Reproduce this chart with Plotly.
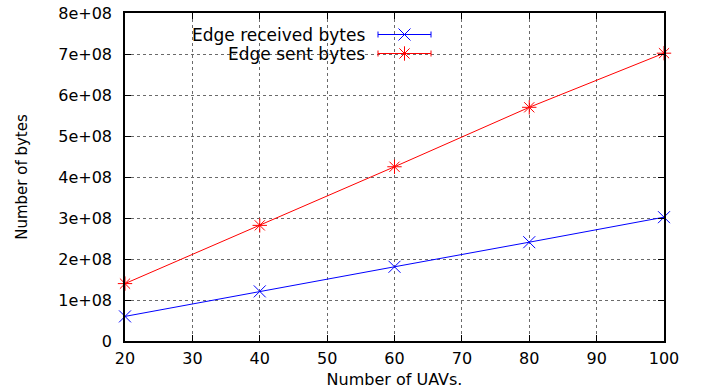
import plotly.graph_objects as go

uavs = [20, 40, 60, 80, 100]
received_bytes = [0.60e8, 1.21e8, 1.81e8, 2.41e8, 3.02e8]
sent_bytes = [1.40e8, 2.82e8, 4.25e8, 5.70e8, 7.02e8]
y_tick_vals = [0, 1e8, 2e8, 3e8, 4e8, 5e8, 6e8, 7e8, 8e8]
y_tick_text = ["0", "1e+08", "2e+08", "3e+08", "4e+08", "5e+08", "6e+08", "7e+08", "8e+08"]
x_tick_vals = [20, 30, 40, 50, 60, 70, 80, 90, 100]
series_names = ["Edge received bytes", "Edge sent bytes"]
series_colors = ["#0000ff", "#ff0000"]
series_symbols = ["x-thin-open", "asterisk-open"]

FONT = "DejaVu Sans"
FS = 16
L, R, T, B = 125, 45, 13, 50
W, H = 709, 391

fig = go.Figure()
for name, ys, col, sym in zip(series_names, [received_bytes, sent_bytes], series_colors, series_symbols):
    fig.add_trace(go.Scatter(
        x=uavs, y=ys, mode="lines+markers", name=name,
        line=dict(color=col, width=1),
        marker=dict(symbol=sym, size=12, color=col, line=dict(color=col, width=1)),
        showlegend=False, cliponaxis=False,
    ))

# legend (gnuplot style: right-aligned text, sample with caps)
legend_rows = [34.5, 53.5]
for name, col, sym, yrow in zip(series_names, series_colors, series_symbols, legend_rows):
    fig.add_trace(go.Scatter(
        x=[404.5], y=[yrow], mode="markers", xaxis="x2", yaxis="y2",
        marker=dict(symbol=sym, size=12, color=col, line=dict(color=col, width=1)),
        error_x=dict(type="constant", value=26.5, color=col, thickness=1, width=3),
        showlegend=False, hoverinfo="skip",
    ))
    fig.add_annotation(x=367, y=yrow, xref="x2", yref="y2", text=name, showarrow=False,
                       xanchor="right", yanchor="middle",
                       font=dict(family=FONT, size=17, color="black"))

axis_common = dict(
    showline=True, linecolor="black", linewidth=1.5, mirror="ticks",
    ticks="inside", ticklen=6, tickcolor="black", tickwidth=1,
    showgrid=True, gridcolor="#6a6a6a", griddash="dot", gridwidth=1,
    zeroline=False, automargin=False,
    tickfont=dict(family=FONT, size=FS, color="black"),
)

fig.update_layout(
    width=W, height=H, autosize=False,
    margin=dict(l=L, r=R, t=T, b=B, pad=0, autoexpand=False),
    paper_bgcolor="white", plot_bgcolor="white",
    xaxis=dict(range=[20, 100], tickvals=x_tick_vals, ticklabelstandoff=2, **axis_common,
               title=dict(text="Number of UAVs.", font=dict(family=FONT, size=FS, color="black"), standoff=7)),
    yaxis=dict(range=[0, 8e8], tickvals=y_tick_vals, ticktext=y_tick_text, ticklabelstandoff=8, **axis_common,
               title=dict(text="Number of bytes", font=dict(family=FONT, size=15, color="black"), standoff=27)),
    xaxis2=dict(range=[L, W - R], domain=[0, 1], overlaying="x", visible=False, anchor="y2", automargin=False),
    yaxis2=dict(range=[H - B, T], domain=[0, 1], overlaying="y", visible=False, anchor="x2", automargin=False),
    showlegend=False,
)

fig.write_html("out.html", config={"displayModeBar": False},
               post_script="document.body.style.margin='0';document.body.style.overflow='hidden';")
